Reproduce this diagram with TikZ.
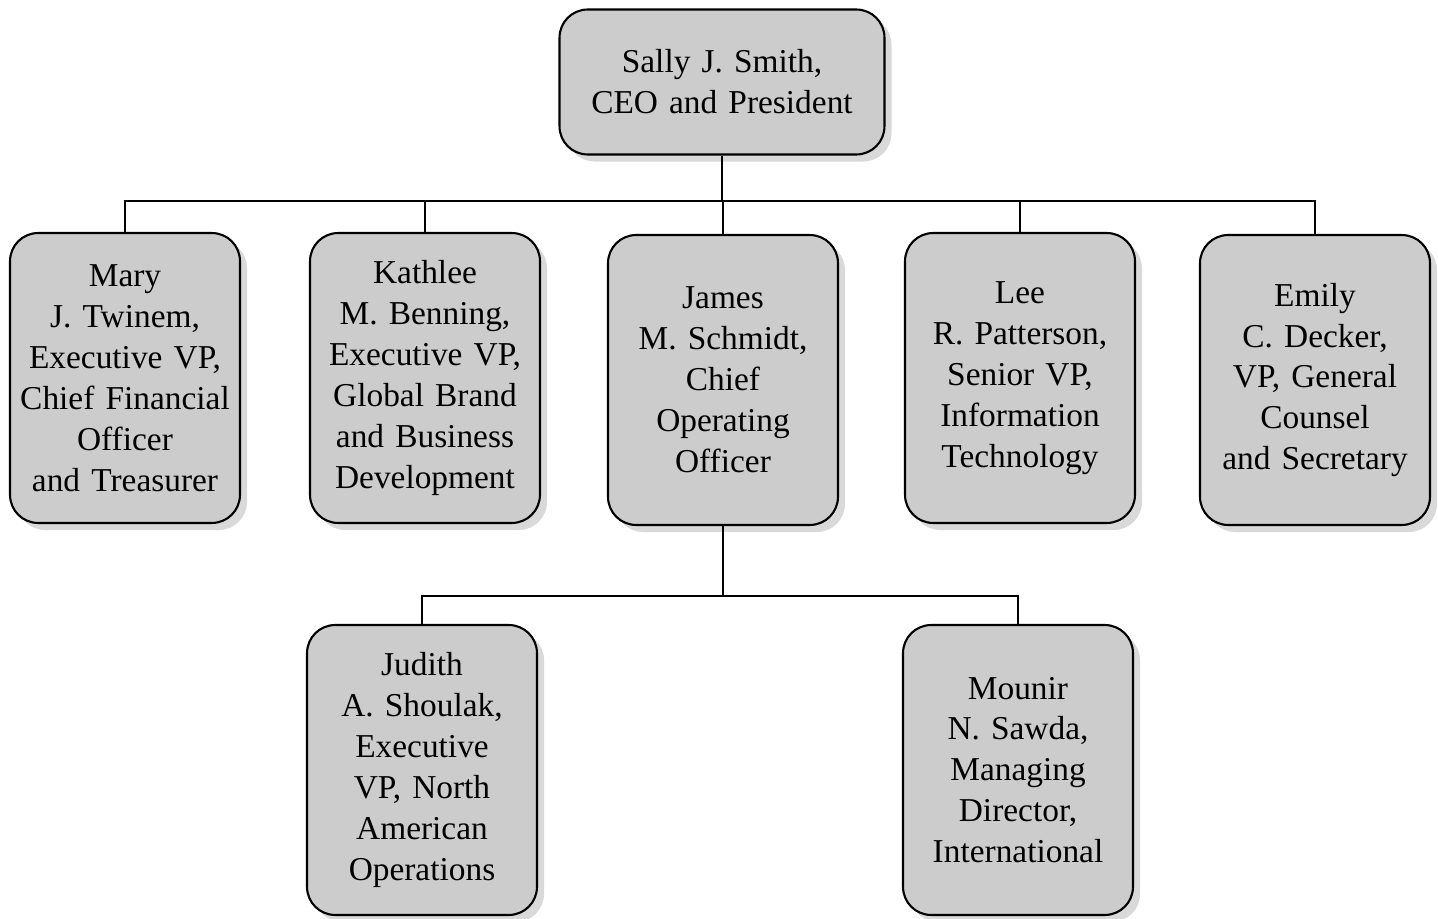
\documentclass[tikz,border=0pt]{standalone}
\usepackage{fontspec}
\setmainfont{Liberation Serif}
\usetikzlibrary{shadows}
\begin{document}
\begin{tikzpicture}[x=0.02cm, y=-0.02cm,
  officer/.style={draw, line width=1.2pt, rounded corners=16pt, fill=black!20,
    drop shadow={shadow xshift=4pt, shadow yshift=-4pt, fill=black!25, opacity=.6},
    align=center, text width=4.3cm, minimum width=4.6cm, minimum height=5.8cm,
    inner sep=2pt, font=\fontsize{19}{23.3}\selectfont},
  link/.style={line width=1.1pt}]
\useasboundingbox (0,0) rectangle (1438,919);
\node[officer, text width=6.2cm, minimum width=6.5cm, minimum height=2.9cm] (ceo) at (722,82) {Sally J. Smith,\\CEO and President};
\node[officer] (mary) at (125,378) {Mary\\J. Twinem,\\Executive VP,\\Chief Financial\\Officer\\and Treasurer};
\node[officer] (kathlee) at (425,378) {Kathlee\\M. Benning,\\Executive VP,\\Global Brand\\and Business\\Development};
\node[officer] (james) at (723,380) {James\\M. Schmidt,\\Chief\\Operating\\Officer};
\node[officer] (lee) at (1020,378) {Lee\\R. Patterson,\\Senior VP,\\Information\\Technology};
\node[officer] (emily) at (1315,380) {Emily\\C. Decker,\\VP, General\\Counsel\\and Secretary};
\node[officer] (judith) at (422,770) {Judith\\A. Shoulak,\\Executive\\VP, North\\American\\Operations};
\node[officer] (mounir) at (1018,770) {Mounir\\N. Sawda,\\Managing\\Director,\\International};
\foreach \n in {mary,kathlee,james,lee,emily}
  \draw[link] (ceo.south) -- ++(0,45) -| (\n.north);
\foreach \n in {judith,mounir}
  \draw[link] (james.south) -- ++(0,70) -| (\n.north);
\end{tikzpicture}
\end{document}
